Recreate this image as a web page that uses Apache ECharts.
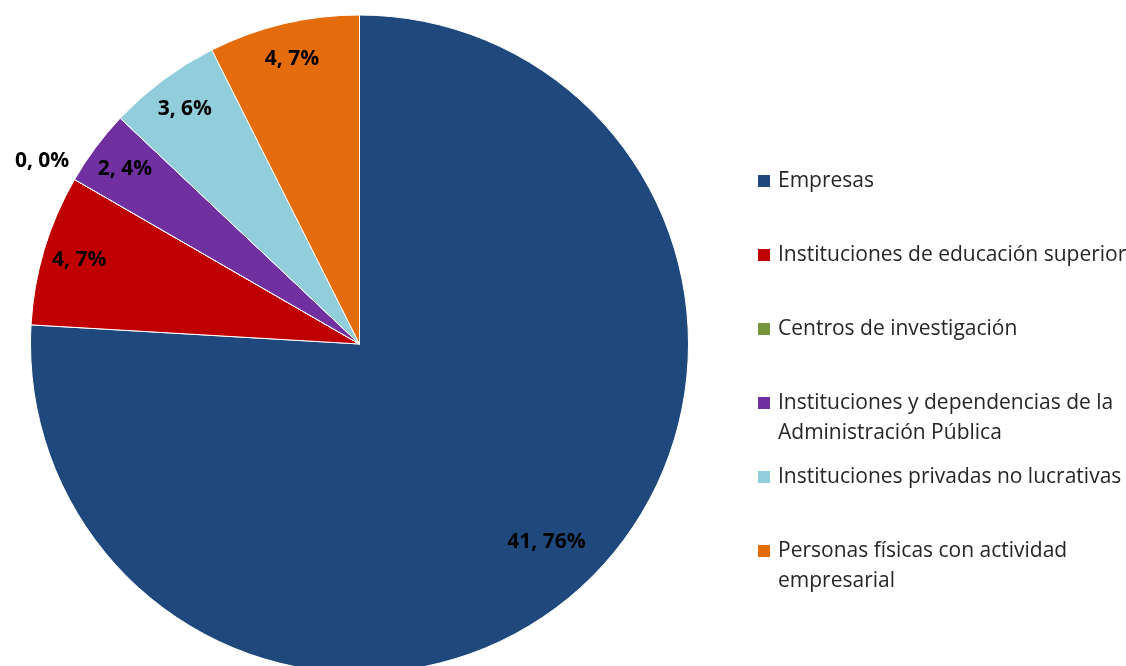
<!DOCTYPE html>
<html>
<head>
<meta charset="utf-8">
<script src="https://cdn.jsdelivr.net/npm/echarts@6/dist/echarts.min.js"></script>
<style>
  html, body { margin: 0; padding: 0; background: #fff; }
  #chart { width: 1126px; height: 666px; }
</style>
</head>
<body>
<div id="chart"></div>
<script>
// data
const categories = [
  'Empresas',
  'Instituciones de educación superior',
  'Centros de investigación',
  'Instituciones y dependencias de la\nAdministración Pública',
  'Instituciones privadas no lucrativas',
  'Personas físicas con actividad\nempresarial'
];
const values = [41, 4, 0, 2, 3, 4];
const colors = ['#1F497D', '#C00000', '#77933C', '#7030A0', '#92CDDC', '#E46C0A'];

const total = values.reduce((a, b) => a + b, 0);
const FONT = '"Open Sans", "Liberation Sans", sans-serif';
const CENTER = [359.5, 344];
const R = 329;

let chartDom = document.getElementById('chart');
let myChart = echarts.init(chartDom);

// label text like "41, 76%"
function labelText(p) {
  return p.value + ', ' + Math.round(p.value / total * 100) + '%';
}

const labelStyle = {
  formatter: labelText,
  color: '#000',
  fontFamily: FONT,
  fontWeight: 'bold',
  fontSize: 21
};

// which label goes on which overlay ring
function overlayData(pick) {
  return categories.map((c, i) => ({
    name: c,
    value: values[i],
    label: { show: pick(i) }
  }));
}

const overlayBase = {
  type: 'pie',
  center: CENTER,
  startAngle: 90,
  silent: true,
  itemStyle: { color: 'rgba(0,0,0,0)' },
  emphasis: { disabled: true },
  labelLine: { show: false },
  avoidLabelOverlap: false,
  label: Object.assign({ position: 'inside' }, labelStyle)
};

// every legend item gets the same box height, first line level with the icon
const legendData = categories.map((c) => {
  const twoLines = c.indexOf('\n') >= 0;
  return {
    name: c,
    textStyle: {
      padding: twoLines ? [30, 0, 0, 2] : [30, 0, 30, 2],
      backgroundColor: 'rgba(255,255,255,0)'
    }
  };
});

let option = {
  animation: false,
  color: colors,
  legend: {
    orient: 'vertical',
    left: 756,
    top: 136,
    padding: 0,
    icon: 'rect',
    itemWidth: 14,
    itemHeight: 14,
    itemGap: -16,
    selectedMode: false,
    formatter: function (name) {
      return name.split('\n').map(s => '{t|' + s + '}').join('\n');
    },
    textStyle: {
      fontFamily: FONT,
      fontSize: 21,
      color: '#262626',
      lineHeight: 30,
      rich: {
        t: {
          fontFamily: FONT,
          fontSize: 21,
          color: '#262626',
          lineHeight: 30
        }
      }
    },
    data: legendData
  },
  series: [
    {
      name: 'main',
      type: 'pie',
      center: CENTER,
      radius: R,
      startAngle: 90,
      itemStyle: { borderColor: '#fff', borderWidth: 1 },
      label: { show: false },
      labelLine: { show: false },
      emphasis: { disabled: true },
      data: categories.map((c, i) => ({ name: c, value: values[i] }))
    },
    // labels of the small slices, near the rim
    Object.assign({}, overlayBase, {
      radius: [250, R],
      data: overlayData(i => i !== 0 && values[i] > 0)
    }),
    // label of the big slice
    Object.assign({}, overlayBase, {
      radius: [210, R],
      data: overlayData(i => i === 0)
    }),
    // zero slice label, outside the rim
    Object.assign({}, overlayBase, {
      radius: [R, 398],
      data: overlayData(i => values[i] === 0)
    })
  ]
};

option && myChart.setOption(option);
</script>
</body>
</html>
